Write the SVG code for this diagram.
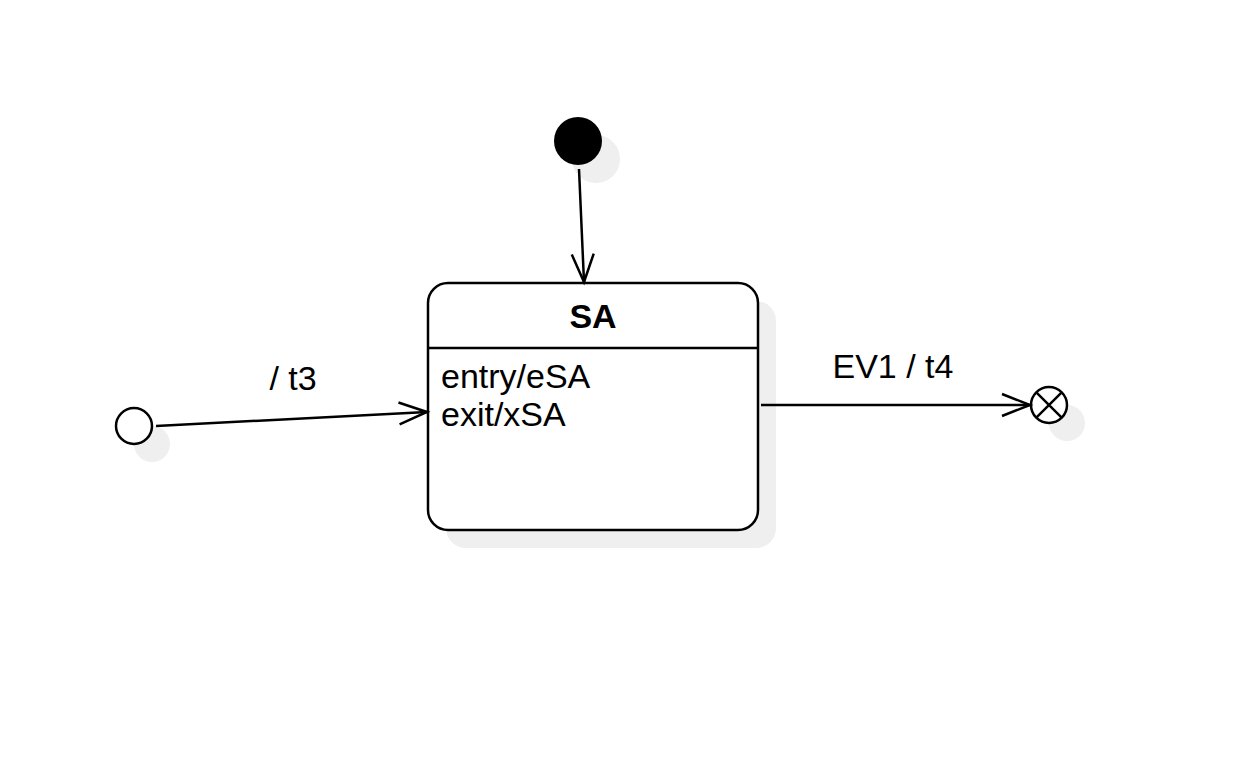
<svg xmlns="http://www.w3.org/2000/svg" width="1256" height="762" viewBox="0 0 1256 762">
<style>
.shadow{fill:#efefef;stroke:none}
.ln{fill:none;stroke:#000;stroke-width:2.5}
.txt{font-family:"Liberation Sans",Arial,sans-serif;font-size:34px;fill:#000}
.bold{font-weight:bold}
</style>
<defs>
<marker id="open" markerUnits="userSpaceOnUse" markerWidth="40" markerHeight="30" refX="30" refY="12" orient="auto" overflow="visible">
<path d="M2,1 L30,12 L2,23" fill="none" stroke="#000" stroke-width="2.5"/>
</marker>
</defs>
<rect width="1256" height="762" fill="#fff"/>
<g id="initial">
<circle class="shadow" cx="596" cy="159" r="24"/>
<circle cx="578" cy="141" r="24" fill="#000"/>
</g>
<g id="entryPoint">
<circle class="shadow" cx="152" cy="444" r="18"/>
<circle cx="134" cy="426" r="18" fill="#fff" stroke="#000" stroke-width="2.5"/>
</g>
<g id="SA">
<rect class="shadow" x="446" y="301" width="330" height="247" rx="20"/>
<rect x="428" y="283" width="330" height="247" rx="20" fill="#fff" stroke="#000" stroke-width="2.5"/>
<line class="ln" x1="428" y1="348" x2="758" y2="348"/>
<text class="txt bold" x="593" y="328" text-anchor="middle">SA</text>
<text class="txt" x="441" y="388">entry/eSA</text>
<text class="txt" x="441" y="426">exit/xSA</text>
</g>
<g id="exitPoint">
<circle class="shadow" cx="1067" cy="423" r="18"/>
<circle cx="1049" cy="405" r="18" fill="#fff" stroke="#000" stroke-width="2.5"/>
<path class="ln" d="M1036.3,392.3 L1061.7,417.7 M1061.7,392.3 L1036.3,417.7"/>
</g>
<g id="connectors">
<line class="ln" x1="579" y1="169" x2="584" y2="282" marker-end="url(#open)"/>
<line class="ln" x1="156" y1="426" x2="427" y2="412" marker-end="url(#open)"/>
<text class="txt" x="293" y="390" text-anchor="middle">/ t3</text>
<line class="ln" x1="761" y1="405" x2="1030" y2="405" marker-end="url(#open)"/>
<text class="txt" x="893" y="378" text-anchor="middle">EV1 / t4</text>
</g>
</svg>
